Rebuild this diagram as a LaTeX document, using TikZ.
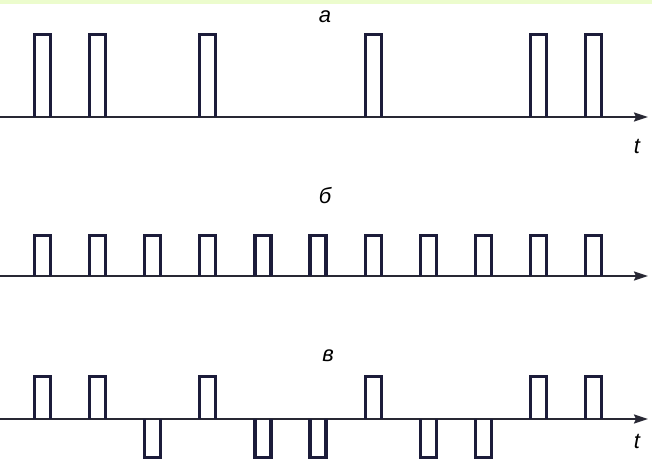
\documentclass[tikz,border=0pt]{standalone}
\usepackage{fontspec}
\setmainfont{Liberation Sans}
\usetikzlibrary{arrows.meta}
\definecolor{pulseink}{RGB}{28,28,58}
\definecolor{axisink}{RGB}{40,40,52}
\definecolor{topband}{RGB}{236,252,205}

\begin{document}
\begin{tikzpicture}[x=1pt, y=-1pt,
  pulse/.style={draw=pulseink, line width=3.2pt, line join=miter},
  timeaxis/.style={draw=axisink, line width=2pt, -{Stealth[length=14pt, width=9pt, inset=2pt]}},
  tag/.style={font=\fontsize{22}{22}\selectfont\itshape, inner sep=0pt},
]
  \useasboundingbox (0,0) rectangle (652,462);
  \fill[topband] (0,0) rectangle (652,4);

  % Axes
  \coordinate (a0) at (0,117);  \coordinate (a1) at (648,117);
  \coordinate (b0) at (0,276);  \coordinate (b1) at (648,276);
  \coordinate (c0) at (0,419);  \coordinate (c1) at (648,419);
  \draw[timeaxis] (a0) -- (a1);
  \draw[timeaxis] (b0) -- (b1);
  \draw[timeaxis] (c0) -- (c1);

  % Pulses
  \foreach \k in {0,1,3,6,9,10}
    \draw[pulse] (34.5+55.1*\k,117) -- ++(0,-82.5) -- ++(16,0) -- ++(0,82.5);
  \foreach \k in {0,...,10}
    \draw[pulse] (34.5+55.1*\k,276) -- ++(0,-40.5) -- ++(16,0) -- ++(0,40.5);
  \foreach \k in {0,1,3,6,9,10}
    \draw[pulse] (34.5+55.1*\k,419) -- ++(0,-42.5) -- ++(16,0) -- ++(0,42.5);
  \foreach \k in {2,4,5,7,8}
    \draw[pulse] (34.5+55.1*\k,419) -- ++(0,38.5) -- ++(16,0) -- ++(0,-38.5);

  % Labels
  \node[tag] (taga) at (325,17) {а};
  \node[tag] (tagb) at (325,196) {б};
  \node[tag] (tagc) at (328,356) {в};
  \node[tag] (ta) at (637,146) {t};
  \node[tag] (tc) at (637,441) {t};
\end{tikzpicture}
\end{document}
